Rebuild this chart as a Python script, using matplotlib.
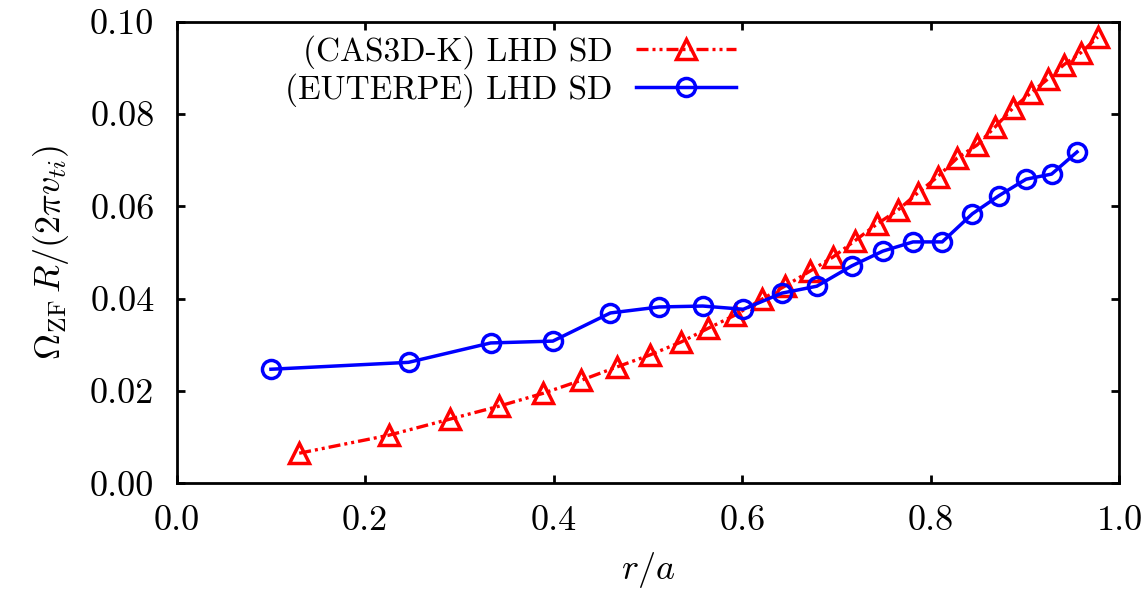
import matplotlib
matplotlib.use("Agg")
import matplotlib.pyplot as plt

plt.rcParams['font.family'] = 'serif'
plt.rcParams['font.serif'] = ['cmr10']
plt.rcParams['mathtext.fontset'] = 'cm'
plt.rcParams['axes.formatter.use_mathtext'] = True

# CAS3D-K LHD SD
r_cas = [0.130, 0.225, 0.290, 0.342, 0.389, 0.429, 0.467, 0.502, 0.535, 0.564,
         0.592, 0.621, 0.645, 0.672, 0.696, 0.719, 0.743, 0.765, 0.786, 0.807,
         0.828, 0.849, 0.868, 0.887, 0.906, 0.924, 0.941, 0.959, 0.977]
w_cas = [0.0065, 0.0104, 0.0139, 0.0167, 0.0195, 0.0223, 0.0252, 0.0278, 0.0306, 0.0336,
         0.0364, 0.0399, 0.0427, 0.0460, 0.0490, 0.0525, 0.0562, 0.0592, 0.0629, 0.0664,
         0.0705, 0.0733, 0.0772, 0.0813, 0.0846, 0.0876, 0.0907, 0.0933, 0.0967]

# EUTERPE LHD SD
r_eut = [0.100, 0.246, 0.333, 0.399, 0.460, 0.512, 0.558, 0.601, 0.642, 0.679,
         0.716, 0.749, 0.781, 0.812, 0.844, 0.872, 0.901, 0.928, 0.955]
w_eut = [0.0247, 0.0262, 0.0304, 0.0308, 0.0369, 0.0382, 0.0384, 0.0377, 0.0412, 0.0427,
         0.0471, 0.0503, 0.0523, 0.0523, 0.0584, 0.0623, 0.0659, 0.0670, 0.0718]

xticks = [0.0, 0.2, 0.4, 0.6, 0.8, 1.0]
yticks = [0.00, 0.02, 0.04, 0.06, 0.08, 0.10]

fig = plt.figure(figsize=(11.47, 5.90), dpi=100)
ax = fig.add_axes([0.154, 0.181, 0.822, 0.782])

ax.plot(r_cas, w_cas, color='#ff0000', lw=2.4,
        linestyle=(0, (3.6, 1.2, 0.9, 1.2, 0.9, 1.2)),
        marker='^', ms=14, mfc='none', mec='#ff0000', mew=2.5,
        label='(CAS3D-K) LHD SD')
ax.plot(r_eut, w_eut, color='#0000ff', lw=2.5, linestyle='-',
        marker='o', ms=13, mfc='none', mec='#0000ff', mew=2.5,
        label='(EUTERPE) LHD SD')

ax.set_xlim(0, 1.0)
ax.set_ylim(0, 0.10)
ax.set_xticks(xticks)
ax.set_yticks(yticks)
ax.set_xticklabels(['%.1f' % v for v in xticks])
ax.set_yticklabels(['%.2f' % v for v in yticks])
ax.tick_params(direction='in', top=True, right=True, length=6, width=2,
               labelsize=26, pad=16)
for s in ax.spines.values():
    s.set_linewidth(2)

ax.set_xlabel(r'$r/a$', fontsize=26, labelpad=9)
ax.set_ylabel(r'$\Omega_{\rm ZF}\,R/(2\pi v_{ti})$', fontsize=26, labelpad=14)

ax.legend(loc='upper right', bbox_to_anchor=(0.607, 1.0), frameon=False,
          markerfirst=False, fontsize=24, handlelength=3.0, handletextpad=0.7,
          labelspacing=0.12, borderaxespad=0.2, borderpad=0.2)

fig.savefig('out.png', dpi=100)
